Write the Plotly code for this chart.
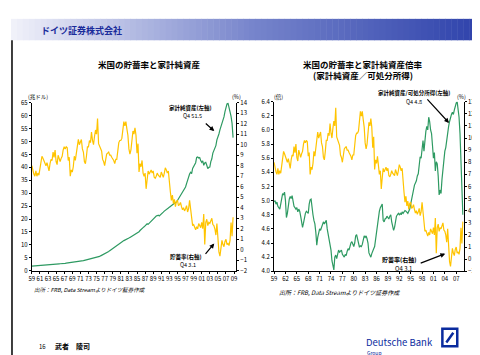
import plotly.graph_objects as go

W, H = 480, 355


def px(x):
    return x / W


def py(y):
    return 1 - y / H


START_YEAR = 1959

# US personal saving rate (%), quarterly 1959Q1-2008Q4
savings_rate = [
    8.0, 7.4, 7.2, 7.0,   7.5, 7.0, 7.3, 7.1,   7.8, 8.5, 8.9, 8.7,   8.4, 8.2, 8.0, 8.3,
    7.7, 7.5, 8.2, 8.6,   8.5, 9.3, 8.8, 9.5,   8.4, 8.1, 9.0, 8.7,   8.4, 8.7, 8.9, 9.5,
    9.8, 9.6, 9.8, 9.7,   8.5, 8.8, 7.0, 7.6,   7.4, 7.9, 8.9, 8.5,   9.2, 10.2, 10.5, 10.0,
    10.3, 10.5, 9.6, 9.3, 8.4, 8.2, 8.9, 9.8,   9.8, 10.4, 10.2, 11.2, 10.4, 10.0, 10.8, 11.4,
    11.0, 12.5, 10.1, 9.8, 9.6, 9.4, 8.6, 8.4,  8.0, 8.6, 9.1, 9.2,   9.3, 9.0, 9.0, 8.8,
    8.7, 8.5, 8.2, 8.6,   8.6, 9.8, 10.2, 10.4, 10.4, 10.6, 11.8, 12.2, 11.8, 12.2, 11.5, 10.9,
    9.6, 9.1, 9.5, 10.5,  11.3, 11.0, 11.6, 10.9, 9.2, 10.1, 7.4, 8.2,  7.9, 8.5, 7.3, 7.0,
    7.3, 5.8, 6.7, 7.5,   7.2, 7.4, 7.6, 7.3,   7.5, 6.9, 6.8, 7.0,   7.3, 7.1, 7.0, 6.9,
    7.4, 7.2, 6.9, 7.3,   7.8, 7.6, 7.3, 7.5,   6.2, 5.5, 4.7, 5.2,   4.4, 4.8, 4.1, 4.6,
    4.7, 4.2, 4.3, 4.5,   4.1, 3.8, 4.0, 3.7,   3.9, 4.2, 3.6, 3.9,   4.7, 3.9, 2.6, 2.3,
    2.4, 2.0, 1.9, 2.2,   2.0, 2.5, 2.3, 2.1,   2.6, 2.0, 3.4, 0.5,   2.6, 2.9, 2.3, 2.6,
    2.5, 2.7, 3.0, 2.4,   2.3, 2.0, 1.4, 2.5,   0.4, -0.2, -0.6, 0.3, 0.9, 0.5, 0.3, 0.8,
    1.0, 0.5, 0.6, 0.4,   0.9, 2.6, 1.3, 3.1,
]

# Household net worth (trillion USD), quarterly 1959Q1-2008Q4
net_worth = [
    1.78, 1.81, 1.82, 1.85,  1.86, 1.87, 1.88, 1.91,  1.96, 1.99, 2.03, 2.08,  2.08, 2.02, 2.05, 2.12,
    2.16, 2.21, 2.25, 2.29,  2.34, 2.39, 2.44, 2.48,  2.53, 2.56, 2.62, 2.69,  2.72, 2.71, 2.70, 2.76,
    2.84, 2.90, 2.98, 3.03,  3.06, 3.16, 3.24, 3.35,  3.36, 3.38, 3.37, 3.39,  3.43, 3.38, 3.47, 3.55,
    3.68, 3.75, 3.82, 3.91,  4.03, 4.12, 4.22, 4.36,  4.44, 4.52, 4.65, 4.72,  4.83, 4.87, 4.85, 4.96,
    5.10, 5.30, 5.38, 5.55,  5.78, 5.95, 6.12, 6.36,  6.52, 6.76, 6.98, 7.21,  7.45, 7.78, 8.08, 8.34,
    8.62, 8.94, 9.30, 9.60,  9.82, 10.08, 10.47, 10.85, 11.08, 11.32, 11.46, 11.68, 11.82, 11.91, 12.10, 12.38,
    12.64, 12.92, 13.15, 13.38, 13.55, 13.70, 13.95, 14.20, 14.52, 14.86, 15.12, 15.58, 16.05, 16.44, 16.68, 17.00,
    17.52, 17.80, 18.15, 17.95, 18.40, 18.78, 19.12, 19.50, 19.98, 20.44, 20.95, 21.18, 21.30, 21.52, 21.20, 21.50,
    21.98, 22.30, 22.68, 23.08, 23.30, 23.52, 23.80, 24.25, 24.60, 24.95, 25.40, 25.70, 25.90, 26.10, 26.40, 26.60,
    27.20, 27.90, 28.60, 29.30, 29.90, 30.40, 30.90, 31.80, 32.40, 33.70, 35.10, 35.90, 37.40, 38.10, 37.60, 39.60,
    40.50, 41.50, 41.80, 43.80, 44.00, 43.60, 43.80, 42.60, 41.90, 42.50, 40.80, 41.70, 41.90, 40.80, 39.50, 40.00,
    40.10, 42.20, 43.30, 45.50, 46.70, 47.60, 48.40, 50.60, 51.60, 52.90, 54.50, 55.60, 57.30, 58.00, 59.50, 61.50,
    63.20, 64.50, 64.80, 63.50, 61.40, 59.70, 57.00, 51.50,
]

# Household net worth / disposable income (times), quarterly 1959Q1-2008Q4
nw_to_income = [
    4.98, 5.00, 4.95, 4.98,  4.92, 4.90, 4.88, 4.95,  5.05, 5.10, 5.08, 5.12,  5.00, 4.76, 4.82, 4.95,
    5.02, 5.06, 5.03, 5.07,  4.95, 4.92, 4.90, 4.88,  4.90, 4.84, 4.88, 4.85,  4.78, 4.70, 4.62, 4.68,
    4.78, 4.82, 4.85, 4.83,  4.82, 4.95, 5.01, 5.02,  4.88, 4.80, 4.72, 4.67,  4.55, 4.37, 4.48, 4.55,
    4.60, 4.58, 4.62, 4.68,  4.70, 4.67, 4.69, 4.72,  4.60, 4.52, 4.45, 4.38,  4.30, 4.15, 4.05, 4.02,
    4.20, 4.23, 4.18, 4.25,  4.30, 4.27, 4.28, 4.30,  4.24, 4.22, 4.20, 4.24,  4.22, 4.28, 4.32, 4.30,
    4.38, 4.40, 4.42, 4.38,  4.35, 4.40, 4.50, 4.52,  4.45, 4.40, 4.34, 4.36,  4.35, 4.38, 4.44, 4.50,
    4.48, 4.50, 4.46, 4.40,  4.26, 4.22, 4.20, 4.25,  4.30, 4.32, 4.35, 4.45,  4.55, 4.70, 4.78, 4.85,
    4.90, 4.92, 4.95, 4.72,  4.70, 4.74, 4.75, 4.78,  4.76, 4.74, 4.78, 4.80,  4.70, 4.65, 4.58, 4.62,
    4.72, 4.78, 4.80, 4.82,  4.80, 4.82, 4.80, 4.84,  4.82, 4.84, 4.86, 4.85,  4.83, 4.82, 4.85, 4.88,
    4.95, 5.03, 5.12, 5.20,  5.22, 5.25, 5.28, 5.35,  5.38, 5.50, 5.62, 5.60,  5.78, 5.85, 5.70, 5.92,
    5.98, 6.05, 6.00, 6.18,  6.12, 6.00, 5.95, 5.78,  5.60, 5.68, 5.42, 5.55,  5.52, 5.35, 5.08, 5.15,
    5.10, 5.30, 5.45, 5.62,  5.70, 5.75, 5.85, 6.02,  6.05, 6.12, 6.18, 6.22,  6.25, 6.22, 6.28, 6.35,
    6.38, 6.40, 6.32, 6.18,  5.95, 5.60, 5.35, 4.80,
]

quarters = [START_YEAR + i / 4 for i in range(len(savings_rate))]

left_x_tickvals = list(range(1959, 2010, 2))
left_x_ticktext = [f"{y % 100:02d}" for y in left_x_tickvals]
right_x_tickvals = list(range(1959, 2008, 3))
right_x_ticktext = [f"{y % 100:02d}" for y in right_x_tickvals]

YELLOW = "#FFC400"
GREEN = "#2E9A62"
BLUE = "#0A2B9E"
FONT = "Noto Sans CJK JP"
TICKFONT = dict(family=FONT, size=6, color="black")

fig = go.Figure()
fig.add_trace(go.Scatter(x=quarters, y=net_worth, xaxis="x", yaxis="y", mode="lines",
                         line=dict(color=GREEN, width=1.2), name="家計純資産"))
fig.add_trace(go.Scatter(x=quarters, y=savings_rate, xaxis="x", yaxis="y2", mode="lines",
                         line=dict(color=YELLOW, width=1.2), name="貯蓄率"))
fig.add_trace(go.Scatter(x=quarters, y=nw_to_income, xaxis="x2", yaxis="y3", mode="lines",
                         line=dict(color=GREEN, width=1.2), name="家計純資産/可処分所得"))
fig.add_trace(go.Scatter(x=quarters, y=savings_rate, xaxis="x2", yaxis="y4", mode="lines",
                         line=dict(color=YELLOW, width=1.2), name="貯蓄率"))

axis_common = dict(showline=True, linecolor="black", linewidth=1, showgrid=False, zeroline=False,
                   ticks="outside", ticklen=2, tickcolor="black", tickfont=TICKFONT, fixedrange=True)

fig.update_layout(
    width=W, height=H, autosize=False,
    margin=dict(l=0, r=0, t=0, b=0),
    paper_bgcolor="white", plot_bgcolor="white",
    showlegend=False,
    font=dict(family=FONT, color="black"),
    xaxis=dict(domain=[px(21), px(227)], anchor="y", range=[1959, 2009.5],
               tickmode="array", tickvals=left_x_tickvals, ticktext=left_x_ticktext,
               tickangle=0, **axis_common),
    yaxis=dict(domain=[py(264.5), py(92)], anchor="x", range=[0, 65], dtick=5, tick0=0,
               side="left", **axis_common),
    yaxis2=dict(overlaying="y", anchor="x", side="right", range=[-2, 14], dtick=1, tick0=0,
                **axis_common),
    xaxis2=dict(domain=[px(265.3), px(456.6)], anchor="y3", range=[1959, 2009],
                tickmode="array", tickvals=right_x_tickvals, ticktext=right_x_ticktext,
                tickangle=0, **axis_common),
    yaxis3=dict(domain=[py(265), py(91)], anchor="x2", range=[4.0, 6.4], dtick=0.2, tick0=4.0,
                tickformat=".1f", side="left", **axis_common),
    yaxis4=dict(overlaying="y3", anchor="x2", side="right", range=[-1, 13], dtick=1, tick0=0,
                **axis_common),
)

shapes = []
# header gradient band
n_strips = 80
stops = [(0.0, (242, 242, 250)), (0.5, (120, 134, 204)), (1.0, (44, 64, 170))]


def grad(t):
    for (t0, c0), (t1, c1) in zip(stops[:-1], stops[1:]):
        if t0 <= t <= t1:
            f = (t - t0) / (t1 - t0)
            return tuple(int(round(a + (b - a) * f)) for a, b in zip(c0, c1))
    return stops[-1][1]


for i in range(n_strips):
    x0 = W * i / n_strips
    x1 = W * (i + 1) / n_strips + 0.5
    c = grad((i + 0.5) / n_strips)
    shapes.append(dict(type="rect", xref="paper", yref="paper", x0=px(x0), x1=px(x1),
                       y0=py(28), y1=py(6), fillcolor=f"rgb{c}", line=dict(width=0), layer="below"))
# slide frame
shapes.append(dict(type="path", xref="paper", yref="paper", layer="below",
                   path=f"M {px(1)} {py(28)} L {px(1)} {py(353.5)} L {px(478.5)} {py(353.5)} L {px(478.5)} {py(28)}",
                   line=dict(color="black", width=1.5)))
# Deutsche Bank logo
shapes.append(dict(type="rect", xref="paper", yref="paper", x0=px(435), x1=px(450), y0=py(342), y1=py(324),
                   line=dict(color=BLUE, width=2.5), fillcolor="white"))
shapes.append(dict(type="line", xref="paper", yref="paper", x0=px(439), y0=py(338), x1=px(446), y1=py(328),
                   line=dict(color=BLUE, width=2.5)))
fig.update_layout(shapes=shapes)

ann = []


def text(x, y, s, size=6, bold=False, color="black", xanchor="center", italic=False):
    if bold:
        s = f"<b>{s}</b>"
    if italic:
        s = f"<i>{s}</i>"
    ann.append(dict(xref="paper", yref="paper", x=px(x), y=py(y), text=s, showarrow=False,
                    xanchor=xanchor, yanchor="middle",
                    font=dict(family=FONT, size=size, color=color)))


text(28, 18, "ドイツ証券株式会社", size=9, bold=True, color="#1A2B9B", xanchor="left")
text(140, 52, "米国の貯蓄率と家計純資産", size=8.5, bold=True)
text(355, 52, "米国の貯蓄率と家計純資産倍率", size=8.5, bold=True)
text(355, 63.5, "(家計純資産／可処分所得)", size=8.5, bold=True)

text(27, 86, "(兆ドル)", size=5.5)
text(227, 86, "(%)", size=5.5)
text(270, 86, "(倍)", size=5.5)
text(454, 86, "(%)", size=5.5)

text(181, 97, "家計純資産(左軸)", size=5.5, bold=True)
text(183, 106, "Q4 51.5", size=5.5)
text(176, 250, "貯蓄率(右軸)", size=5.5, bold=True)
text(178, 259, "Q4 3.1", size=5.5)
text(406, 82, "家計純資産/可処分所得(左軸)", size=5.5, bold=True)
text(406, 91.5, "Q4 4.8", size=5.5)
text(392, 253, "貯蓄率(右軸)", size=6, bold=True)
text(396, 262, "Q4 3.1", size=6)

text(21, 284, "出所：FRB, Data Streamよりドイツ証券作成", size=5.5, italic=True, xanchor="left")
text(268, 287, "出所：FRB, Data Streamよりドイツ証券作成", size=6, italic=True, xanchor="left")

text(26, 342, "16", size=6, xanchor="left")
text(42, 342, "武者　陵司", size=7, bold=True, xanchor="left")
text(356, 337.5, "Deutsche Bank", size=9.5, color=BLUE, xanchor="left")
text(357, 348.5, "Group", size=5, color=BLUE, xanchor="left")

# arrows (tips placed in data coordinates)
arrow_style = dict(showarrow=True, arrowhead=2, arrowsize=0.8, arrowwidth=1.2, arrowcolor="black",
                   text="", axref="pixel", ayref="pixel")
ann.append(dict(xref="x", yref="y", x=2004.1, y=54.0, ax=-10, ay=-9, **arrow_style))
ann.append(dict(xref="x", yref="y2", x=2004.1, y=0.6, ax=-10, ay=12, **arrow_style))
ann.append(dict(xref="x2", yref="y3", x=2005.1, y=6.10, ax=-23, ay=-25, **arrow_style))
ann.append(dict(xref="x2", yref="y4", x=2004.1, y=0.45, ax=-26, ay=10, **arrow_style))

fig.update_layout(annotations=ann)

fig.write_html("out.html")
